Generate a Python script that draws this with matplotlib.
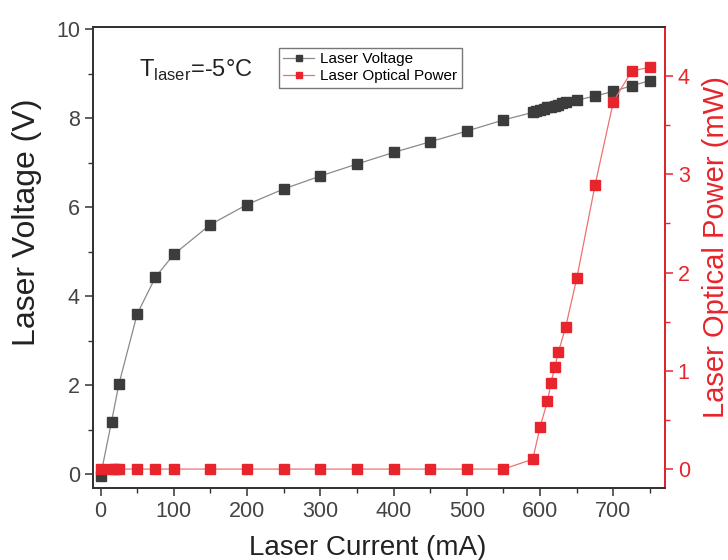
import numpy as np
import matplotlib.pyplot as plt

plt.rcParams['font.family'] = ['Liberation Sans', 'DejaVu Sans']
plt.rcParams['mathtext.fontset'] = 'custom'
plt.rcParams['mathtext.rm'] = 'Liberation Sans'

# laser voltage vs current
i_volt = [0, 15, 25, 50, 75, 100, 150, 200, 250, 300, 350, 400, 450, 500, 550,
          590, 595, 600, 605, 610, 615, 620, 625, 630, 635, 650, 675, 700, 725, 750]
volt = [-0.04, 1.18, 2.02, 3.6, 4.43, 4.94, 5.61, 6.06, 6.41, 6.70, 6.97, 7.23, 7.47, 7.71, 7.96,
        8.13, 8.16, 8.19, 8.21, 8.24, 8.26, 8.28, 8.30, 8.33, 8.36, 8.40, 8.50, 8.60, 8.73, 8.84]

# optical power vs current
i_pow = [0, 15, 20, 25, 50, 75, 100, 150, 200, 250, 300, 350, 400, 450, 500, 550,
         590, 600, 610, 615, 620, 625, 635, 650, 675, 700, 725, 750]
power = [0, 0, 0, 0, 0, 0, 0, 0, 0, 0, 0, 0, 0, 0, 0, 0,
         0.1, 0.43, 0.69, 0.88, 1.04, 1.19, 1.45, 1.94, 2.89, 3.74, 4.05, 4.09]

dark = '#3c3c3c'
red = '#e8242c'
axc = '#333333'

fig = plt.figure(figsize=(7.28, 5.6), dpi=100)
ax = fig.add_axes([0.128, 0.129, 0.785, 0.823])
ax2 = ax.twinx()

l1, = ax.plot(i_volt, volt, color='#8a8a8a', lw=0.9, marker='s', ms=6.5,
              mfc=dark, mec=dark, label='Laser Voltage', zorder=3)
l2, = ax2.plot(i_pow, power, color='#f07070', lw=0.9, marker='s', ms=6.5,
               mfc=red, mec=red, label='Laser Optical Power', zorder=3)

ax.set_xlim(-10, 770)
ax.set_ylim(-0.3, 10.05)
ax2.set_ylim(-0.19, 4.5)

ax.set_xticks(np.arange(0, 701, 100))
ax.set_xticks(np.arange(50, 751, 100), minor=True)
ax.set_yticks(np.arange(0, 11, 2))
ax.set_yticks(np.arange(1, 10, 2), minor=True)
ax2.set_yticks(np.arange(0, 5, 1))
ax2.set_yticks(np.arange(0.5, 4.5, 1), minor=True)

for a in (ax, ax2):
    for s in a.spines.values():
        s.set_color(axc)
        s.set_linewidth(1.3)
ax2.spines['right'].set_color(red)

ax.tick_params(which='major', direction='out', length=6, width=1.1, colors=axc, labelsize=15.5, labelcolor='#444444')
ax.tick_params(which='minor', direction='out', length=3.5, width=1.0, colors=axc)
ax2.tick_params(which='major', direction='out', length=6, width=1.1, colors=red, labelsize=15.5)
ax2.tick_params(which='minor', direction='out', length=3.5, width=1.0, colors=red)

ax.set_xlabel('Laser Current (mA)', fontsize=20, color='#222222')
ax.set_ylabel('Laser Voltage (V)', fontsize=23, color='#222222')
ax2.set_ylabel('Laser Optical Power (mW)', fontsize=21, color=red)
ax.xaxis.set_label_coords(0.48, -0.13)
ax.yaxis.set_label_coords(-0.115, 0.577)
ax2.yaxis.set_label_coords(1.089, 0.523)
ax.xaxis.label.set_va('center')
ax.yaxis.label.set_va('center')
ax2.yaxis.label.set_va('center')

ax.text(52, 9.08, r'T$_{\mathregular{laser}}$=-5°C', fontsize=17, ha='left', va='center', color='#222222')

leg = ax.legend(handles=[l1, l2], loc='upper left', bbox_to_anchor=(0.325, 0.955),
                fontsize=11, frameon=True, fancybox=False, edgecolor='#555555',
                handlelength=2.0, borderpad=0.3, labelspacing=0.2, handletextpad=0.4,
                borderaxespad=0, markerscale=0.75)
leg.get_frame().set_linewidth(1.0)

fig.savefig('out.png', dpi=100)
